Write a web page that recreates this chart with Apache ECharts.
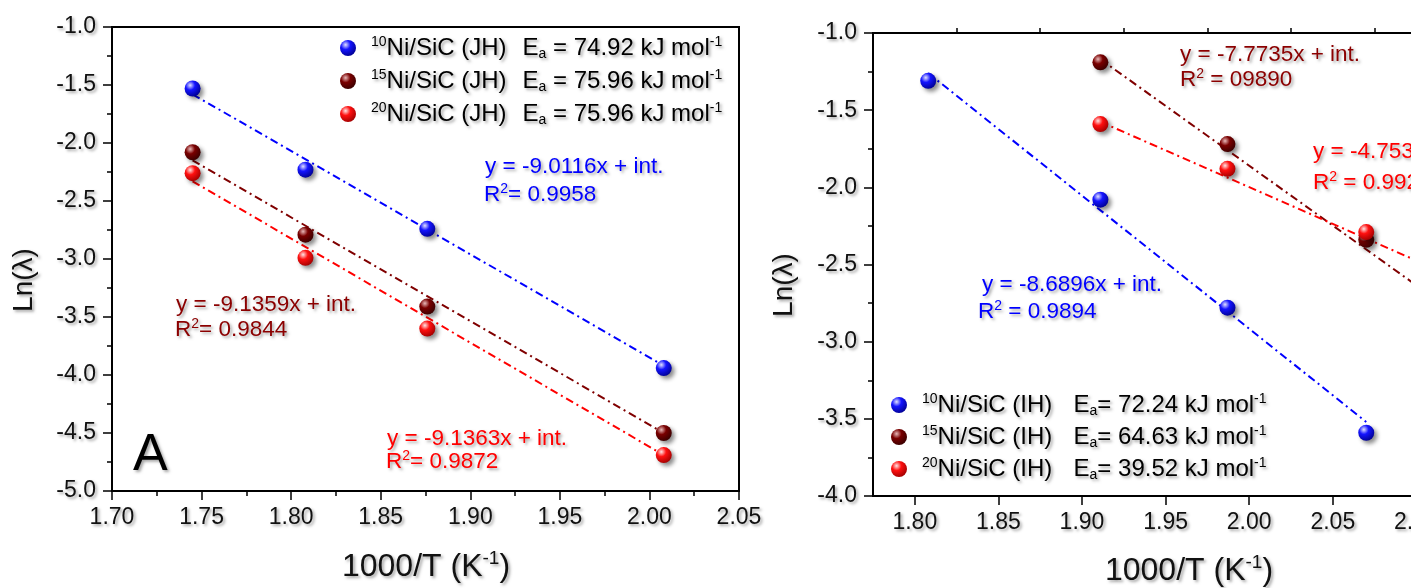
<!DOCTYPE html>
<html>
<head>
<meta charset="utf-8">
<script src="https://cdn.jsdelivr.net/npm/echarts@6/dist/echarts.min.js"></script>
<style>
html, body { margin: 0; padding: 0; background: #fff; }
#main { width: 1411px; height: 588px; }
</style>
</head>
<body>
<div id="main"></div>
<script>
// panel A (JH) : measured points, 1000/T vs Ln(lambda)
var jhX = [1.745, 1.808, 1.876, 2.008];
var jh10 = [-1.53, -2.23, -2.74, -3.94];
var jh15 = [-2.08, -2.79, -3.41, -4.50];
var jh20 = [-2.26, -2.99, -3.60, -4.69];
// fit lines, end points
var jhFitX = [1.745, 2.008];
var jhFit10 = [-1.58, -3.92];
var jhFit15 = [-2.15, -4.50];
var jhFit20 = [-2.33, -4.69];

// panel B (IH)
var ihX10 = [1.808, 1.911, 1.987, 2.070];
var ih10 = [-1.31, -2.08, -2.78, -3.59];
var ihX = [1.911, 1.987, 2.070];
var ih15 = [-1.19, -1.72, -2.34];
var ih20 = [-1.59, -1.88, -2.29];
var ihFitX10 = [1.808, 2.070];
var ihFit10 = [-1.26, -3.52];
var ihFitX = [1.911, 2.12];
var ihFit15 = [-1.17, -2.79];
var ihFit20 = [-1.575, -2.57];

// legend texts
var namesA = ['Ni/SiC (JH)', 'Ni/SiC (JH) ', 'Ni/SiC (JH)  '];
var namesB = ['Ni/SiC (IH)', 'Ni/SiC (IH) ', 'Ni/SiC (IH)  '];
var loadings = ['10', '15', '20'];
var eaA = ['74.92', '75.96', '75.96'];
var eaB = ['72.24', '64.63', '39.52'];

// tick labels of panel B x axis
var ticksB = [1.80, 1.85, 1.90, 1.95, 2.00, 2.05, 2.10, 2.15];
var minorB = [1.825, 1.875, 1.925, 1.975, 2.025, 2.075, 2.125];

var FONT = '"Liberation Sans", Arial, sans-serif';
var BLUE = '#0000ff', BROWN = '#800000', RED = '#ff0000';

function zip(xs, ys) {
    return xs.map(function (x, i) { return [x, ys[i]]; });
}

function ball(light, mid, dark) {
    return new echarts.graphic.RadialGradient(0.35, 0.3, 0.75, [
        { offset: 0, color: light },
        { offset: 0.4, color: mid },
        { offset: 1, color: dark }
    ]);
}

var shadow = {
    textShadowColor: 'rgba(0,0,0,0.35)',
    textShadowBlur: 3,
    textShadowOffsetX: 2,
    textShadowOffsetY: 2
};

function richFor(size, nameWidth) {
    var small = Math.round(size * 0.6);
    return {
        sup: Object.assign({ fontSize: small, lineHeight: small, verticalAlign: 'top', fontFamily: FONT }, shadow),
        sub: Object.assign({ fontSize: small, lineHeight: small, verticalAlign: 'bottom', fontFamily: FONT }, shadow),
        n: Object.assign({ fontSize: size, fontFamily: FONT, width: nameWidth || 0 }, shadow)
    };
}

function scatter(name, xs, ys, grid, fill) {
    return {
        name: name, type: 'scatter',
        xAxisIndex: grid, yAxisIndex: grid,
        data: zip(xs, ys),
        symbolSize: 16,
        z: 5,
        itemStyle: {
            color: fill, opacity: 1,
            shadowBlur: 4, shadowColor: 'rgba(0,0,0,0.45)',
            shadowOffsetX: 3, shadowOffsetY: 3
        }
    };
}

function fit(xs, ys, grid, color) {
    return {
        type: 'line', xAxisIndex: grid, yAxisIndex: grid,
        data: zip(xs, ys), symbol: 'none', silent: true, z: 2,
        lineStyle: { color: color, width: 2, type: [8, 4, 2, 4] }
    };
}

function txt(x, y, text, color, size, extra) {
    var st = Object.assign({
        text: text, fill: color, fontSize: size, fontFamily: FONT,
        align: 'left', verticalAlign: 'middle', lineHeight: size + 4,
        rich: richFor(size)
    }, shadow);
    var el = { type: 'text', x: x, y: y, z: 10 };
    if (extra && extra.style) {
        Object.assign(st, extra.style);
    }
    el.style = st;
    if (extra && extra.rotation) {
        el.rotation = extra.rotation;
    }
    return el;
}

var axisLineStyle = { color: '#000', width: 2 };
var labelStyle = Object.assign({ color: '#111', fontSize: 23, fontFamily: FONT }, shadow);
var tickStyle = { color: '#000', width: 1.5 };

function xAxisA() {
    return {
        gridIndex: 0, type: 'value', min: 1.70, max: 2.05, interval: 0.05,
        axisLine: { lineStyle: axisLineStyle },
        axisTick: { length: 9, lineStyle: tickStyle },
        minorTick: { show: true, splitNumber: 2, length: 5, lineStyle: tickStyle },
        axisLabel: Object.assign({ margin: 15, formatter: function (v) { return v.toFixed(2); } }, labelStyle),
        splitLine: { show: false }
    };
}

function yAxis(grid, min) {
    return {
        gridIndex: grid, type: 'value', min: min, max: -1, interval: 0.5,
        axisLine: { lineStyle: axisLineStyle },
        axisTick: { length: 9, lineStyle: tickStyle },
        minorTick: { show: true, splitNumber: 2, length: 5, lineStyle: tickStyle },
        axisLabel: Object.assign({ margin: 16, formatter: function (v) { return v.toFixed(1); } }, labelStyle),
        splitLine: { show: false }
    };
}

function legend(names, ea, left, top, gap, eq) {
    var map = {};
    names.forEach(function (n, i) {
        map[n] = '{sup|' + loadings[i] + '}{n|' + n.trim() + '}E{sub|a}' + eq + ea[i] + ' kJ mol{sup|-1}';
    });
    return {
        data: names, orient: 'vertical', left: left, top: top,
        icon: 'circle', itemWidth: 36, itemHeight: 16, itemGap: gap,
        selectedMode: false,
        formatter: function (n) { return map[n]; },
        textStyle: Object.assign({ color: '#000', fontSize: 24, fontFamily: FONT, lineHeight: 26, rich: richFor(24, 136) }, shadow)
    };
}

var chart = echarts.init(document.getElementById('main'));

var titleRich = { s: Object.assign({ fontSize: 19, lineHeight: 19, verticalAlign: 'top', fontFamily: FONT }, shadow) };

var option = {
    animation: false,
    backgroundColor: '#fff',
    grid: [
        { left: 112, top: 27, width: 627, height: 464, show: true, borderColor: '#000', borderWidth: 2, outerBoundsMode: 'none' },
        { left: 873, top: 33, width: 627, height: 463, show: true, borderColor: '#000', borderWidth: 2, outerBoundsMode: 'none' }
    ],
    xAxis: [
        xAxisA(),
        {
            gridIndex: 1, type: 'value', min: 1.775, max: 2.15,
            axisLine: { lineStyle: axisLineStyle },
            axisTick: { length: 9, customValues: ticksB, lineStyle: tickStyle },
            axisLabel: Object.assign({ margin: 15, customValues: ticksB, formatter: function (v) { return v.toFixed(2); } }, labelStyle),
            splitLine: { show: false }
        },
        {
            gridIndex: 1, type: 'value', min: 1.775, max: 2.15,
            axisLine: { show: false },
            axisTick: { length: 5, customValues: minorB, lineStyle: tickStyle },
            axisLabel: { show: false },
            splitLine: { show: false }
        }
    ],
    yAxis: [yAxis(0, -5), yAxis(1, -4)],
    legend: [
        legend(namesA, eaA, 335, 30, 7, ' = '),
        legend(namesB, eaB, 886, 387, 6, '= ')
    ],
    series: [
        fit(jhFitX, jhFit10, 0, BLUE),
        fit(jhFitX, jhFit15, 0, BROWN),
        fit(jhFitX, jhFit20, 0, RED),
        scatter(namesA[0], jhX, jh10, 0, ball('#e0e0ff', '#1414ff', '#000090')),
        scatter(namesA[1], jhX, jh15, 0, ball('#e8b8b8', '#7a0000', '#380000')),
        scatter(namesA[2], jhX, jh20, 0, ball('#ffe4e4', '#ff1010', '#a00000')),
        fit(ihFitX10, ihFit10, 1, BLUE),
        fit(ihFitX, ihFit15, 1, BROWN),
        fit(ihFitX, ihFit20, 1, RED),
        scatter(namesB[0], ihX10, ih10, 1, ball('#e0e0ff', '#1414ff', '#000090')),
        scatter(namesB[1], ihX, ih15, 1, ball('#e8b8b8', '#7a0000', '#380000')),
        scatter(namesB[2], ihX, ih20, 1, ball('#ffe4e4', '#ff1010', '#a00000'))
    ],
    graphic: [
        // axis titles
        txt(426, 567, '1000/T (K{s|-1})', '#111', 32, { style: { align: 'center', rich: titleRich } }),
        txt(1189, 571, '1000/T (K{s|-1})', '#111', 32, { style: { align: 'center', rich: titleRich } }),
        txt(24, 280, 'Ln(λ)', '#111', 28, { rotation: Math.PI / 2, style: { align: 'center' } }),
        txt(784, 285, 'Ln(λ)', '#111', 28, { rotation: Math.PI / 2, style: { align: 'center' } }),
        txt(133, 456, 'A', '#000', 52),
        // fit annotations, panel A
        txt(485, 167, 'y = -9.0116x + int.', BLUE, 22.5),
        txt(484, 195, 'R{sup|2}= 0.9958', BLUE, 22.5),
        txt(176, 305, 'y = -9.1359x + int.', '#8b0000', 22.5),
        txt(175, 330, 'R{sup|2}= 0.9844', '#8b0000', 22.5),
        txt(387, 439, 'y = -9.1363x + int.', RED, 22.5),
        txt(386, 462, 'R{sup|2}= 0.9872', RED, 22.5),
        // fit annotations, panel B
        txt(1180, 55, 'y = -7.7735x + int.', '#8b0000', 22.5),
        txt(1180, 80, 'R{sup|2} = 09890', '#8b0000', 22.5),
        txt(1313, 152, 'y = -4.753x + int.', RED, 22.5),
        txt(1313, 183, 'R{sup|2} = 0.992', RED, 22.5),
        txt(982, 285, 'y = -8.6896x + int.', BLUE, 22.5),
        txt(978, 312, 'R{sup|2} = 0.9894', BLUE, 22.5)
    ]
};

chart.setOption(option);
</script>
</body>
</html>
